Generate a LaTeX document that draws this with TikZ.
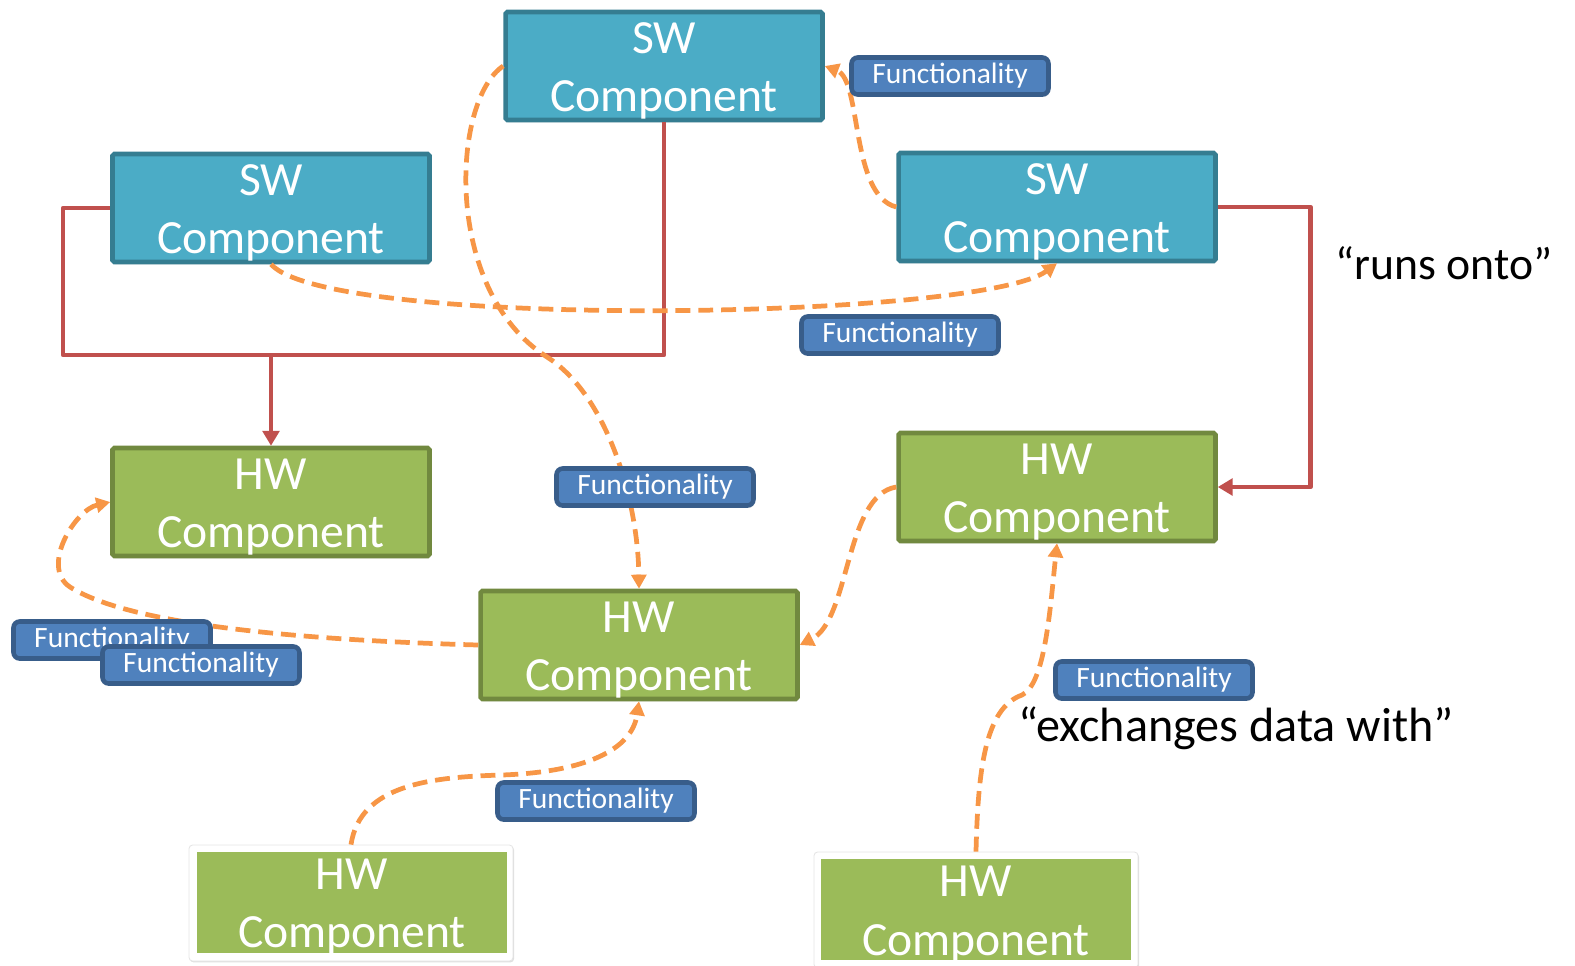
\documentclass[tikz,border=0pt]{standalone}
\usepackage{fontspec}
\setmainfont{Carlito}
\usetikzlibrary{arrows.meta, shadows}

\definecolor{swfill}{HTML}{4BACC6}
\definecolor{swline}{HTML}{357D91}
\definecolor{hwfill}{HTML}{9BBB59}
\definecolor{hwline}{HTML}{71893F}
\definecolor{fnfill}{HTML}{4F81BD}
\definecolor{fnline}{HTML}{385D8A}
\definecolor{runred}{HTML}{C0504D}
\definecolor{dataorange}{HTML}{F79646}

\newcommand{\comptext}[1]{\raisebox{7.4pt}[0pt][0pt]{\begin{tabular}[t]{@{}c@{}}#1\\Component\end{tabular}}}

\begin{document}
\begin{tikzpicture}[x=0.02cm, y=-0.02cm,
  softshadow/.style={drop shadow={opacity=0.18, shadow xshift=0.8pt, shadow yshift=-1.4pt}},
  compbox/.style={line width=2.6pt, minimum width=6.34cm, minimum height=2.16cm, inner sep=0pt,
    text=white, font=\fontsize{27.1}{33.4}\selectfont, rounded corners=1pt},
  swbox/.style={compbox, draw=swline, fill=swfill, softshadow},
  hwbox/.style={compbox, draw=hwline, fill=hwfill, softshadow},
  hwplain/.style={compbox, fill=hwfill, minimum width=6.2cm, minimum height=2.02cm, rounded corners=0pt},
  whiteframe/.style={fill=white, draw=black!10, line width=0.5pt, minimum width=6.48cm, minimum height=2.32cm,
    inner sep=0pt, rounded corners=2pt, drop shadow={opacity=0.25, shadow xshift=0.6pt, shadow yshift=-0.8pt}},
  fnlabel/.style={draw=fnline, fill=fnfill, line width=2.6pt, rounded corners=3.5pt, minimum width=3.94cm,
    minimum height=0.74cm, inner sep=0pt, text=white, font=\fontsize{16.8}{19}\selectfont, softshadow},
  runsonto/.style={draw=runred, line width=2.6pt, line join=round, -{Triangle[length=8.5pt,width=9.5pt]}},
  exchg/.style={draw=dataorange, line width=2.7pt, dash pattern=on 8.5pt off 4.5pt,
    -{Triangle[length=8pt,width=8.5pt]}},
  note/.style={font=\fontsize{26}{31}\selectfont, anchor=base}]
\useasboundingbox (0,0) rectangle (1575,965);

\node[swbox] (swtop) at (664,66) {\comptext{SW}};
\node[swbox] (swleft) at (271,208) {\comptext{SW}};
\node[swbox] (swright) at (1057,207) {\comptext{SW}};
\node[hwbox] (hwleft) at (271,502) {\comptext{HW}};
\node[hwbox] (hwright) at (1057,487) {\comptext{HW}};
\node[hwbox] (hwmid) at (639,645) {\comptext{HW}};
\node[whiteframe] (hwbotlframe) at (351,903) {};
\node[hwplain] (hwbotl) at (352,902) {\comptext{HW}};
\node[whiteframe] (hwbotrframe) at (976,910) {};
\node[hwplain] (hwbotr) at (976,909.5) {\comptext{HW}};

\coordinate (join) at (271,355);
\draw[runsonto, -] (swtop.south) |- (63,355) |- (swleft.west);
\draw[runsonto] (join) -- (hwleft.north);
\draw[runsonto] (swright.east) -- ++(92.5,0) |- (hwright.east);

\draw[exchg] (swright.west) .. controls (850,195) and (862,80) .. (swtop.east);
\draw[exchg] (swleft.south) .. controls (330,330) and (980,320) .. (swright.south);
\draw[exchg] (swtop.west) .. controls (452,100) and (442,290) .. (547,357)
  .. controls (607,395) and (638,500) .. (hwmid.north);
\draw[exchg] (hwmid.west) .. controls (300,640) and (130,625) .. (70,587)
  .. controls (40,567) and (75,510) .. (hwleft.west);
\draw[exchg] (hwright.west) .. controls (845,495) and (850,620) .. (hwmid.east);
\draw[exchg] (hwbotlframe.north) .. controls (360,785) and (430,777) .. (502,775)
  .. controls (585,772) and (632,750) .. (hwmid.south);
\draw[exchg] (hwbotrframe.north) .. controls (978,770) and (985,708) .. (1022,695)
  .. controls (1045,684) and (1050,610) .. (hwright.south);

\node[fnlabel] (fntop) at (950,76) {Functionality};
\node[fnlabel] (fnmid) at (900,335) {Functionality};
\node[fnlabel] (fncentre) at (655,487) {Functionality};
\node[fnlabel] (fnleft) at (112,640) {Functionality};
\node[fnlabel] (fnleftb) at (201,665) {Functionality};
\node[fnlabel] (fnright) at (1154,680) {Functionality};
\node[fnlabel] (fnbottom) at (596,801) {Functionality};

\node[note] (runsnote) at (1444,279) {“runs onto”};
\node[note, font=\fontsize{27.4}{32}\selectfont] (exchnote) at (1236,741) {“exchanges data with”};
\end{tikzpicture}
\end{document}
